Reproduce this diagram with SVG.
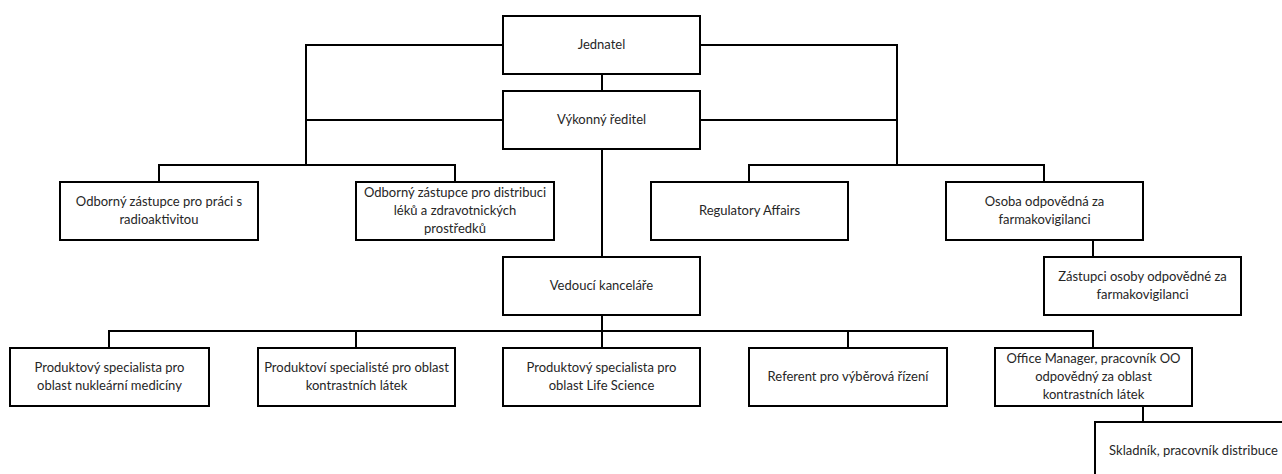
<svg xmlns="http://www.w3.org/2000/svg" width="1282" height="474" viewBox="0 0 1282 474">
<style>
.box{fill:#fff;stroke:#000;stroke-width:2}
.ln{fill:none;stroke:#000;stroke-width:2}
text{font-family:Lato,"Open Sans","Liberation Sans",sans-serif;font-size:13px;fill:#262626;text-anchor:middle}
</style>
<rect width="1282" height="474" fill="#fff"/>
<g id="connectors" class="ln">
<path d="M602,74V91M602,149V257M503,45H306V165M503,120H306M159,182V165H455V182"/>
<path d="M700,45H897V165M700,120H897M749,182V165H1044V182M1093,240V257"/>
<path d="M602,315V348M109,348V331H1093V348M356,331V348M848,331V348M1143,406V422"/>
</g>
<g id="jednatel"><rect class="box" x="503" y="16" width="197" height="58"/><text x="601.5" y="49">Jednatel</text></g>
<g id="vykonny"><rect class="box" x="503" y="91" width="197" height="58"/><text x="601.5" y="124">Výkonný ředitel</text></g>
<g id="odb1"><rect class="box" x="60" y="182" width="198" height="58"/><text x="159" y="206">Odborný zástupce pro práci s</text><text x="159" y="224">radioaktivitou</text></g>
<g id="odb2"><rect class="box" x="356" y="182" width="198" height="58"/><text x="455" y="197">Odborný zástupce pro distribuci</text><text x="455" y="215">léků a zdravotnických</text><text x="455" y="233">prostředků</text></g>
<g id="regulatory"><rect class="box" x="651" y="182" width="197" height="58"/><text x="749.5" y="215">Regulatory Affairs</text></g>
<g id="osoba"><rect class="box" x="946" y="182" width="197" height="58"/><text x="1044.5" y="206">Osoba odpovědná za</text><text x="1044.5" y="224">farmakovigilanci</text></g>
<g id="zastupci"><rect class="box" x="1044" y="257" width="197" height="58"/><text x="1142.5" y="281">Zástupci osoby odpovědné za</text><text x="1142.5" y="299">farmakovigilanci</text></g>
<g id="vedouci"><rect class="box" x="503" y="257" width="197" height="58"/><text x="601.5" y="290">Vedoucí kanceláře</text></g>
<g id="p1"><rect class="box" x="10" y="348" width="199" height="58"/><text x="109.5" y="372">Produktový specialista pro</text><text x="109.5" y="390">oblast nukleární medicíny</text></g>
<g id="p2"><rect class="box" x="258" y="348" width="197" height="58"/><text x="356.5" y="372">Produktoví specialisté pro oblast</text><text x="356.5" y="390">kontrastních látek</text></g>
<g id="p3"><rect class="box" x="503" y="348" width="197" height="58"/><text x="601.5" y="372">Produktový specialista pro</text><text x="601.5" y="390">oblast Life Science</text></g>
<g id="referent"><rect class="box" x="749" y="348" width="198" height="58"/><text x="848" y="381">Referent pro výběrová řízení</text></g>
<g id="office"><rect class="box" x="995" y="348" width="197" height="58"/><text x="1093.5" y="363">Office Manager, pracovník OO</text><text x="1093.5" y="381">odpovědný za oblast</text><text x="1093.5" y="399">kontrastních látek</text></g>
<g id="skladnik"><rect class="box" x="1095" y="422" width="197" height="58"/><text x="1193.5" y="455">Skladník, pracovník distribuce</text></g>
</svg>
